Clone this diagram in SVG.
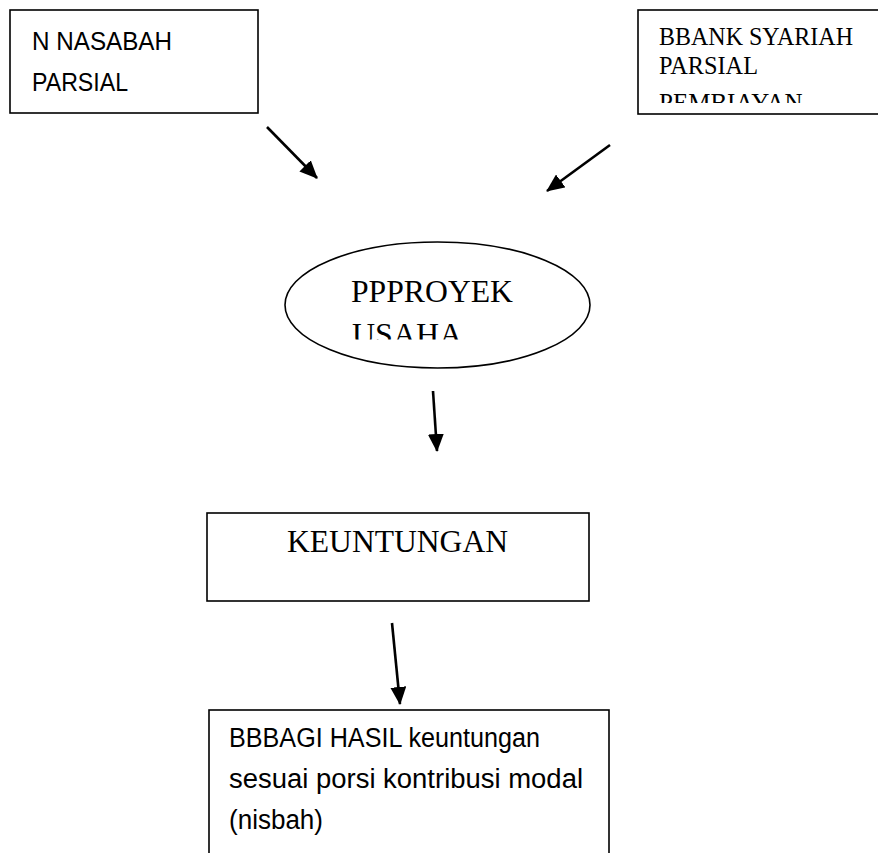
<svg xmlns="http://www.w3.org/2000/svg" width="878" height="853" viewBox="0 0 878 853">
  <style>
    .box { fill: #ffffff; stroke: #000000; stroke-width: 1.6; }
    .sans { font-family: "Liberation Sans", Arial, sans-serif; fill: #000000; }
    .serif { font-family: "Liberation Serif", "Times New Roman", serif; fill: #000000; }
    .arrow { stroke: #000000; stroke-width: 2.6; fill: none; marker-end: url(#head); }
  </style>
  <defs>
    <marker id="head" viewBox="0 0 18 16" refX="17" refY="8" markerWidth="18" markerHeight="16" markerUnits="userSpaceOnUse" orient="auto">
      <path d="M0,0 L18,8 L0,16 Z" fill="#000000"/>
    </marker>
    <clipPath id="clipBank"><rect x="638" y="10" width="240" height="93"/></clipPath>
    <clipPath id="clipProyek"><rect x="285" y="242" width="305" height="97.5"/></clipPath>
  </defs>
  <rect width="878" height="853" fill="#ffffff"/>

  <g id="nasabah">
    <rect class="box" x="10" y="10" width="248" height="103"/>
    <text class="sans" x="32" y="49.5" font-size="25" textLength="140" lengthAdjust="spacingAndGlyphs">N NASABAH</text>
    <text class="sans" x="32" y="90.5" font-size="25" textLength="96" lengthAdjust="spacingAndGlyphs">PARSIAL</text>
  </g>

  <g id="bank">
    <rect class="box" x="638" y="10" width="250" height="104"/>
    <g clip-path="url(#clipBank)">
      <text class="serif" x="659" y="45" font-size="25" textLength="194" lengthAdjust="spacingAndGlyphs">BBANK SYARIAH</text>
      <text class="serif" x="659" y="74" font-size="25" textLength="99" lengthAdjust="spacingAndGlyphs">PARSIAL</text>
      <text class="serif" x="659" y="111" font-size="25">PEMBIAYAN</text>
    </g>
  </g>

  <g id="proyek">
    <ellipse class="box" cx="437.5" cy="305" rx="152.5" ry="63"/>
    <g clip-path="url(#clipProyek)">
      <text class="serif" x="351" y="302" font-size="32" textLength="162" lengthAdjust="spacingAndGlyphs">PPPROYEK</text>
      <text class="serif" x="352" y="344.5" font-size="32">USAHA</text>
    </g>
  </g>

  <g id="keuntungan">
    <rect class="box" x="207" y="513" width="382" height="88"/>
    <text class="serif" x="287" y="552" font-size="31" textLength="221" lengthAdjust="spacingAndGlyphs">KEUNTUNGAN</text>
  </g>

  <g id="bagihasil">
    <rect class="box" x="209" y="710" width="400" height="160"/>
    <text class="sans" x="229" y="747" font-size="27" textLength="311" lengthAdjust="spacingAndGlyphs">BBBAGI HASIL keuntungan</text>
    <text class="sans" x="229" y="788" font-size="27" textLength="354" lengthAdjust="spacingAndGlyphs">sesuai porsi kontribusi modal</text>
    <text class="sans" x="229" y="829" font-size="27" textLength="94" lengthAdjust="spacingAndGlyphs">(nisbah)</text>
  </g>

  <g id="connectors">
    <line class="arrow" x1="267" y1="127" x2="317" y2="178"/>
    <line class="arrow" x1="610" y1="145" x2="547" y2="191"/>
    <line class="arrow" x1="433" y1="391" x2="437" y2="451"/>
    <line class="arrow" x1="392" y1="623" x2="400" y2="704"/>
  </g>
</svg>
